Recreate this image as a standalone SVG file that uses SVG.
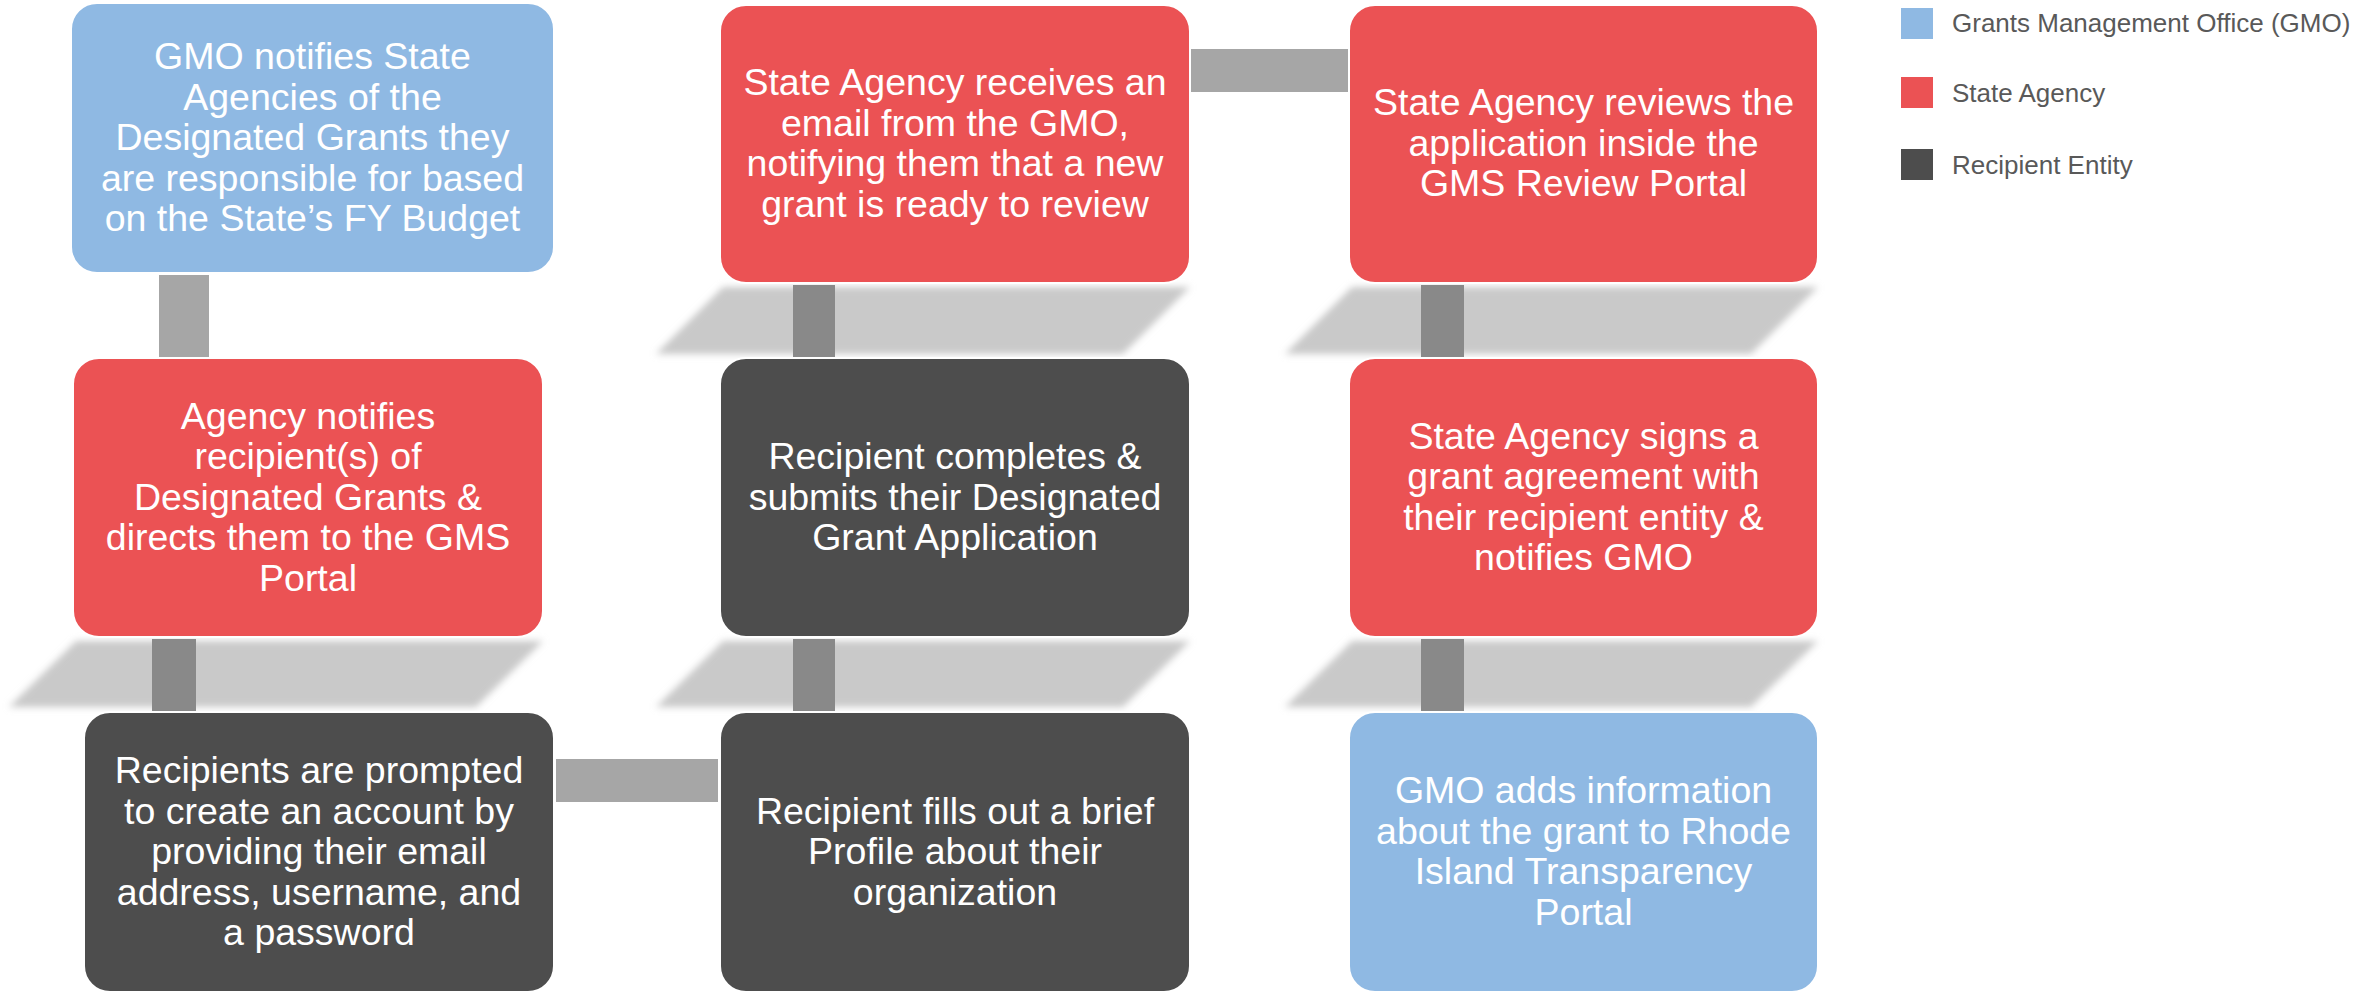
<svg xmlns="http://www.w3.org/2000/svg" width="2356" height="995" viewBox="0 0 2356 995">
<style>
.gmo{fill:#8FB9E3}
.agency{fill:#EB5254}
.recip{fill:#4D4D4D}
.box{stroke:#FFFFFF;stroke-width:2}
.t{font-family:"Liberation Sans",Arial,sans-serif;font-size:37.5px;fill:#FFFFFF;text-anchor:middle}
.lg{font-family:"Liberation Sans",Arial,sans-serif;font-size:26px;fill:#595959}
.conn-l{fill:#A6A6A6}
.conn-d{fill:#898989}
.shadow{fill:#C9C9C9;filter:url(#blur)}
</style>
<defs>
<filter id="blur" x="-10%" y="-30%" width="120%" height="160%">
<feGaussianBlur stdDeviation="3.5"/>
</filter>
</defs>
<rect width="2356" height="995" fill="#FFFFFF"/>
<g id="shadows">
<polygon class="shadow" points="76,641 543,641 476,707 9,707"/>
<polygon class="shadow" points="723,287 1190,287 1123,354 656,354"/>
<polygon class="shadow" points="723,641 1190,641 1123,707 656,707"/>
<polygon class="shadow" points="1352,287 1818,287 1751,354 1285,354"/>
<polygon class="shadow" points="1352,641 1818,641 1751,707 1285,707"/>
</g>
<g id="connectors">
<rect class="conn-l" x="159" y="275" width="50" height="82"/>
<rect class="conn-d" x="152" y="639" width="44" height="72"/>
<rect class="conn-l" x="556" y="759" width="162" height="43"/>
<rect class="conn-d" x="793" y="639" width="42" height="72"/>
<rect class="conn-d" x="793" y="285" width="42" height="72"/>
<rect class="conn-l" x="1191" y="49" width="157" height="43"/>
<rect class="conn-d" x="1421" y="285" width="43" height="72"/>
<rect class="conn-d" x="1421" y="639" width="43" height="72"/>
</g>
<g id="node-gmo-notifies">
<rect class="box gmo" x="71" y="3" width="483" height="270" rx="26"/>
<text class="t" x="312.5"><tspan x="312.5" y="69">GMO notifies State</tspan><tspan x="312.5" y="109.5">Agencies of the</tspan><tspan x="312.5" y="150">Designated Grants they</tspan><tspan x="312.5" y="190.5">are responsible for based</tspan><tspan x="312.5" y="231">on the State’s FY Budget</tspan></text>
</g>
<g id="node-agency-notifies">
<rect class="box agency" x="73" y="358" width="470" height="279" rx="26"/>
<text class="t"><tspan x="308" y="428.5">Agency notifies</tspan><tspan x="308" y="469">recipient(s) of</tspan><tspan x="308" y="509.5">Designated Grants &amp;</tspan><tspan x="308" y="550">directs them to the GMS</tspan><tspan x="308" y="590.5">Portal</tspan></text>
</g>
<g id="node-create-account">
<rect class="box recip" x="84" y="712" width="470" height="280" rx="26"/>
<text class="t"><tspan x="319" y="783">Recipients are prompted</tspan><tspan x="319" y="823.5">to create an account by</tspan><tspan x="319" y="864">providing their email</tspan><tspan x="319" y="904.5">address, username, and</tspan><tspan x="319" y="945">a password</tspan></text>
</g>
<g id="node-profile">
<rect class="box recip" x="720" y="712" width="470" height="280" rx="26"/>
<text class="t"><tspan x="955" y="823.5">Recipient fills out a brief</tspan><tspan x="955" y="864">Profile about their</tspan><tspan x="955" y="904.5">organization</tspan></text>
</g>
<g id="node-submit-application">
<rect class="box recip" x="720" y="358" width="470" height="279" rx="26"/>
<text class="t"><tspan x="955" y="469">Recipient completes &amp;</tspan><tspan x="955" y="509.5">submits their Designated</tspan><tspan x="955" y="550">Grant Application</tspan></text>
</g>
<g id="node-agency-receives">
<rect class="box agency" x="720" y="5" width="470" height="278" rx="26"/>
<text class="t"><tspan x="955" y="95">State Agency receives an</tspan><tspan x="955" y="135.5">email from the GMO,</tspan><tspan x="955" y="176">notifying them that a new</tspan><tspan x="955" y="216.5">grant is ready to review</tspan></text>
</g>
<g id="node-agency-reviews">
<rect class="box agency" x="1349" y="5" width="469" height="278" rx="26"/>
<text class="t"><tspan x="1583.5" y="115">State Agency reviews the</tspan><tspan x="1583.5" y="155.5">application inside the</tspan><tspan x="1583.5" y="196">GMS Review Portal</tspan></text>
</g>
<g id="node-agency-signs">
<rect class="box agency" x="1349" y="358" width="469" height="279" rx="26"/>
<text class="t"><tspan x="1583.5" y="448.5">State Agency signs a</tspan><tspan x="1583.5" y="489">grant agreement with</tspan><tspan x="1583.5" y="529.5">their recipient entity &amp;</tspan><tspan x="1583.5" y="570">notifies GMO</tspan></text>
</g>
<g id="node-gmo-transparency">
<rect class="box gmo" x="1349" y="712" width="469" height="280" rx="26"/>
<text class="t"><tspan x="1583.5" y="803">GMO adds information</tspan><tspan x="1583.5" y="843.5">about the grant to Rhode</tspan><tspan x="1583.5" y="884">Island Transparency</tspan><tspan x="1583.5" y="924.5">Portal</tspan></text>
</g>
<g id="legend">
<rect class="gmo" x="1901" y="8" width="32" height="31"/>
<text class="lg" x="1952" y="32">Grants Management Office (GMO)</text>
<rect class="agency" x="1901" y="77" width="32" height="31"/>
<text class="lg" x="1952" y="102">State Agency</text>
<rect class="recip" x="1901" y="149" width="32" height="31"/>
<text class="lg" x="1952" y="174">Recipient Entity</text>
</g>
</svg>
